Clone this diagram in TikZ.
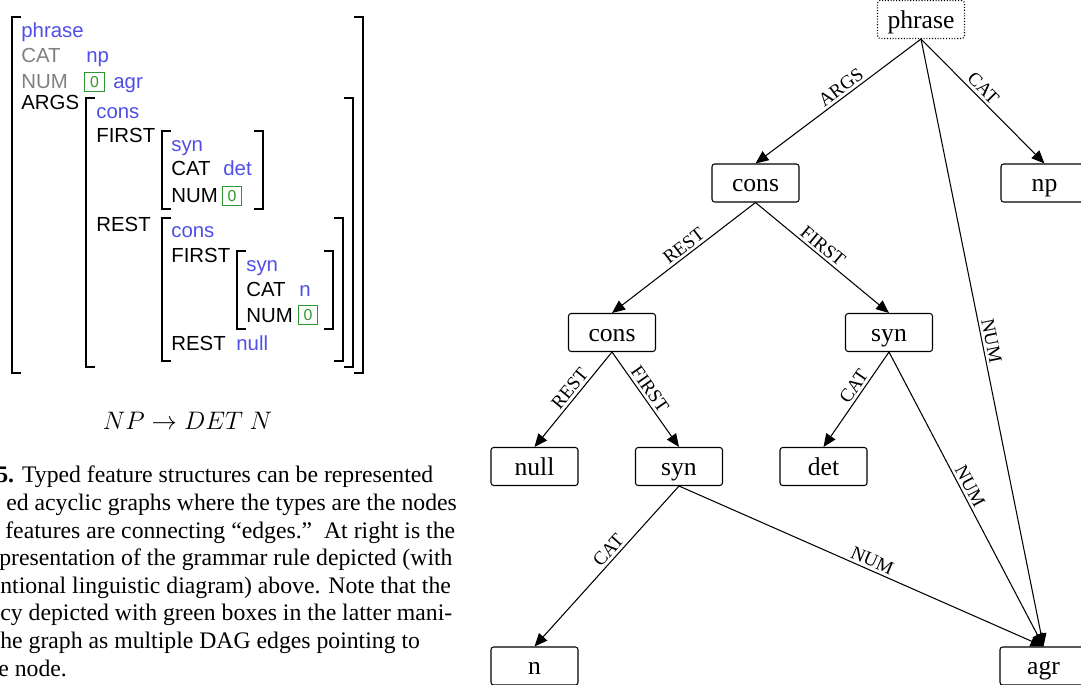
\documentclass[tikz,border=0pt]{standalone}
\usepackage{fontspec}
\setmainfont{Liberation Serif}
\setsansfont{Liberation Sans}
\usetikzlibrary{arrows.meta}
\definecolor{typblau}{HTML}{4F4FE6}
\definecolor{merkgrau}{HTML}{808080}
\definecolor{taggruen}{HTML}{2E962E}
\tikzset{
  klammer/.style={black,line width=1.4pt},
  merk/.style={font=\sffamily\fontsize{11.6}{14}\selectfont,anchor=base west,inner sep=0pt},
  typ/.style={merk,typblau},
  tagbox/.style={draw=taggruen,text=taggruen,line width=0.8pt,font=\sffamily\fontsize{9}{10}\selectfont,minimum size=0.39cm,inner sep=0pt},
  zeile/.style={font=\fontsize{13.5}{16}\selectfont,anchor=base west,inner sep=0pt},
  knoten/.style={draw,rounded corners=1.5pt,line width=0.6pt,minimum width=1.74cm,minimum height=0.76cm,
    text height=11pt,text depth=1pt,font=\fontsize{14.6}{16}\selectfont,inner sep=0pt},
  kante/.style={-{Triangle[length=2.6mm,width=2.2mm]},line width=0.6pt},
  merkmal/.style={font=\fontsize{10.8}{12}\selectfont,sloped,above,inner sep=1.5pt},
}

\begin{document}
\begin{tikzpicture}[x=0.02cm,y=-0.02cm]
  \useasboundingbox (0,0) rectangle (1081,685);
  \clip (0,0) rectangle (1081,685);

  % feature structure with brackets
  \draw[klammer] (21,17) -- (12,17) -- (12,373) -- (21,373);
  \draw[klammer] (354,17) -- (363,17) -- (363,373) -- (354,373);
  \draw[klammer] (95,98) -- (86,98) -- (86,367) -- (95,367);
  \draw[klammer] (344,98) -- (353,98) -- (353,367) -- (344,367);
  \draw[klammer] (171,131) -- (162,131) -- (162,209) -- (171,209);
  \draw[klammer] (254,131) -- (263,131) -- (263,209) -- (254,209);
  \draw[klammer] (171,218) -- (162,218) -- (162,361) -- (171,361);
  \draw[klammer] (334,218) -- (343,218) -- (343,361) -- (334,361);
  \draw[klammer] (246,251) -- (237,251) -- (237,329) -- (246,329);
  \draw[klammer] (324,251) -- (333,251) -- (333,329) -- (324,329);

  \node[typ] (a-phrase) at (21,38) {phrase};
  \node[merk,merkgrau] (a-cat) at (21,63) {CAT};
  \node[typ] (a-np) at (86,63) {np};
  \node[merk,merkgrau] (a-num) at (21,89) {NUM};
  \node[tagbox] (tag1) at (94.5,82) {0};
  \node[typ] (a-agr) at (113,89) {agr};
  \node[merk] (a-args) at (21,110) {ARGS};
  \node[typ] (b-cons) at (96,119) {cons};
  \node[merk] (b-first) at (96,143) {FIRST};
  \node[typ] (c-syn) at (171,152) {syn};
  \node[merk] (c-cat) at (171,176) {CAT};
  \node[typ] (c-det) at (223,176) {det};
  \node[merk] (c-num) at (171,203) {NUM};
  \node[tagbox] (tag2) at (232,196) {0};
  \node[merk] (b-rest) at (96,232) {REST};
  \node[typ] (d-cons) at (171,238) {cons};
  \node[merk] (d-first) at (171,263) {FIRST};
  \node[typ] (e-syn) at (246,272) {syn};
  \node[merk] (e-cat) at (246,297) {CAT};
  \node[typ] (e-n) at (299,297) {n};
  \node[merk] (e-num) at (246,323) {NUM};
  \node[tagbox] (tag3) at (308,315) {0};
  \node[merk] (d-rest) at (171,351) {REST};
  \node[typ] (d-null) at (236,351) {null};

  % rule
  \node[font=\fontsize{15}{17}\selectfont,anchor=base,inner sep=0pt] (regel) at (187.5,430) {$NP \rightarrow DET\ N$};

  % caption lines
  \node[zeile] (z1) at (-4,482) {\textbf{5.} Typed feature structures can be represented};
  \node[zeile] (z2) at (6,510) {ed acyclic graphs where the types are the nodes};
  \node[zeile] (z3) at (5,538) {features are connecting “edges.”\ \ At right is the};
  \node[zeile] (z4) at (-1,565) {presentation of the grammar rule depicted (with};
  \node[zeile] (z5) at (0,593) {ntional linguistic diagram) above. Note that the};
  \node[zeile] (z6) at (0,620) {cy depicted with green boxes in the latter mani-};
  \node[zeile] (z7) at (0,648) {he graph as multiple DAG edges pointing to};
  \node[zeile] (z8) at (-2,676) {e node.};

  % DAG
  \node[knoten,densely dotted] (phrase) at (921,19.5) {phrase};
  \node[knoten] (cons1) at (755.5,183) {cons};
  \node[knoten] (np) at (1044.5,183) {np};
  \node[knoten] (cons2) at (612,332.5) {cons};
  \node[knoten] (synA) at (889,332.5) {syn};
  \node[knoten] (null) at (534.5,466.5) {null};
  \node[knoten] (synB) at (679,466.5) {syn};
  \node[knoten] (det) at (823.5,466.5) {det};
  \node[knoten] (n) at (534.5,666) {n};
  \node[knoten] (agr) at (1043.5,666) {agr};

  \draw[kante] (phrase.south) -- node[merkmal,pos=0.45] {ARGS} (cons1.north);
  \draw[kante] (phrase.south) -- node[merkmal,pos=0.45] {CAT} (np.north);
  \draw[kante] (phrase.south) -- node[merkmal,pos=0.5] {NUM} (agr.north);
  \draw[kante] (cons1.south) -- node[merkmal,pos=0.46] {REST} (cons2.north);
  \draw[kante] (cons1.south) -- node[merkmal,pos=0.46] {FIRST} (synA.north);
  \draw[kante] (cons2.south) -- node[merkmal,pos=0.45] {REST} (null.north);
  \draw[kante] (cons2.south) -- node[merkmal,pos=0.45] {FIRST} (synB.north);
  \draw[kante] (synA.south) -- node[merkmal,pos=0.42] {CAT} (det.north);
  \draw[kante] (synA.south) -- node[merkmal,pos=0.47] {NUM} (agr.north);
  \draw[kante] (synB.south) -- node[merkmal,pos=0.44] {CAT} (n.north);
  \draw[kante] (synB.south) -- node[merkmal,pos=0.52] {NUM} (agr.north);
\end{tikzpicture}
\end{document}
